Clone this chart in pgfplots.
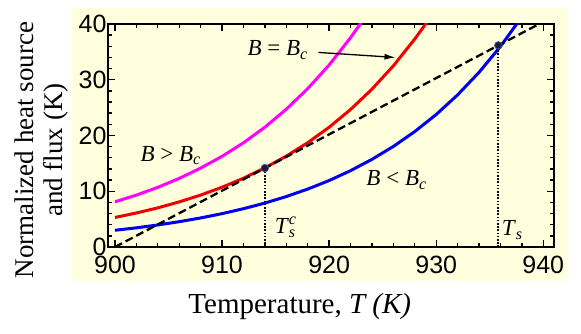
\documentclass[border=0pt]{standalone}
\usepackage{fontspec}
\setmainfont{Liberation Serif}
\newfontfamily\arial{Liberation Sans}
\usepackage{pgfplots}
\pgfplotsset{compat=1.18}
\usetikzlibrary{arrows.meta}

\definecolor{bgyellow}{RGB}{255,255,221}
\definecolor{dotfill}{RGB}{20,30,60}
\definecolor{dotedge}{RGB}{60,90,140}
\definecolor{cmag}{RGB}{255,0,255}
\definecolor{cred}{RGB}{240,0,0}
\definecolor{cblue}{RGB}{0,0,240}

\newcommand{\Bc}{\textit{B}\textsubscript{\textit{c}}}

\begin{document}
\begin{tikzpicture}
\path[use as bounding box] (-108pt,-87pt) rectangle (473pt,247pt);
\fill[bgyellow] (-36pt,-34pt) rectangle (459pt,239pt);
\begin{axis}[
    at={(0,0)}, anchor=south west,
    width=446pt, height=223pt, scale only axis,
    xmin=899.35, xmax=941, ymin=0, ymax=40,
    xtick={900,910,920,930,940},
    ytick={0,10,20,30,40},
    minor tick num=4,
    tick align=inside,
    major tick length=7pt, minor tick length=4pt,
    tick style={black, line width=1.4pt},
    axis line style={line width=2.2pt},
    /pgf/number format/assume math mode=true,
    /pgf/number format/1000 sep={},
    tick label style={font=\arial\fontsize{25}{28}\selectfont},
    xticklabel style={yshift=-6pt},
    yticklabel style={xshift=2pt},
    xlabel={Temperature, \textit{T (K)}},
    ylabel={Normalized heat source\\and flux (K)},
    every axis x label/.style={at={(axis description cs:0.43,-0.296)}, anchor=base,
        font=\fontsize{29}{32}\selectfont},
    every axis y label/.style={at={(axis description cs:-0.148,0.435)}, anchor=center,
        rotate=90, align=center, font=\fontsize{27}{29}\selectfont},
]
% B > Bc
\addplot[cmag, line width=3pt] coordinates {
(900,8.10)(902,9.31)(904,10.70)(906,12.31)(908,14.15)(910,16.26)(912,18.69)
(914,21.49)(916,24.71)(918,28.40)(920,32.65)(922,37.54)(923,40.25)};
% B = Bc
\addplot[cred, line width=3pt] coordinates {
(900,5.30)(902,6.10)(904,7.02)(906,8.09)(908,9.31)(910,10.72)(912,12.34)
(914,14.20)(916,16.30)(918,18.71)(920,21.48)(922,24.66)(924,28.31)(926,32.50)
(928,37.31)(929,39.97)(930,42.83)};
% B < Bc
\addplot[cblue, line width=3pt] coordinates {
(900,3.00)(902,3.44)(904,3.95)(906,4.54)(908,5.21)(910,5.98)(912,6.87)
(914,7.88)(916,9.05)(918,10.39)(920,11.92)(922,13.69)(924,15.72)(926,18.04)
(928,20.71)(930,23.77)(932,27.29)(934,31.33)(936,35.97)(938,41.29)};
% heat flux line
\addplot[black, line width=2.3pt, dash pattern=on 8pt off 4pt] coordinates {(900,0)(940,40.4)};
% Ts markers
\addplot[black, line width=1.8pt, dash pattern=on 1.6pt off 1.6pt] coordinates {(914,0)(914,14.15)};
\addplot[black, line width=1.8pt, dash pattern=on 1.6pt off 1.6pt] coordinates {(935.8,0)(935.8,36.16)};
\addplot[only marks, mark=*, mark size=3.8pt, mark options={fill=dotfill, draw=dotedge, line width=0.8pt}]
    coordinates {(914,14.15)(935.8,36.16)};

\node[font=\fontsize{23}{25}\selectfont] at (axis cs:915.2,35.3) {\textit{B} = \Bc};
\draw[line width=1.3pt, -{Latex[length=11pt,width=6pt]}] (axis cs:919.0,34.9) -- (axis cs:926.2,34.0);
\node[font=\fontsize{23}{25}\selectfont] at (axis cs:905.2,16.4) {\textit{B} > \Bc};
\node[font=\fontsize{23}{25}\selectfont] at (axis cs:926.3,12.0) {\textit{B} < \Bc};
\node[font=\fontsize{23}{25}\selectfont] at (axis cs:915.9,3.6) {\textit{T}\rlap{\textsuperscript{\textit{c}}}\textsubscript{\textit{s}}};
\node[font=\fontsize{23}{25}\selectfont] at (axis cs:937.1,3.0) {\textit{T}\textsubscript{\textit{s}}};
\end{axis}
\end{tikzpicture}
\end{document}
